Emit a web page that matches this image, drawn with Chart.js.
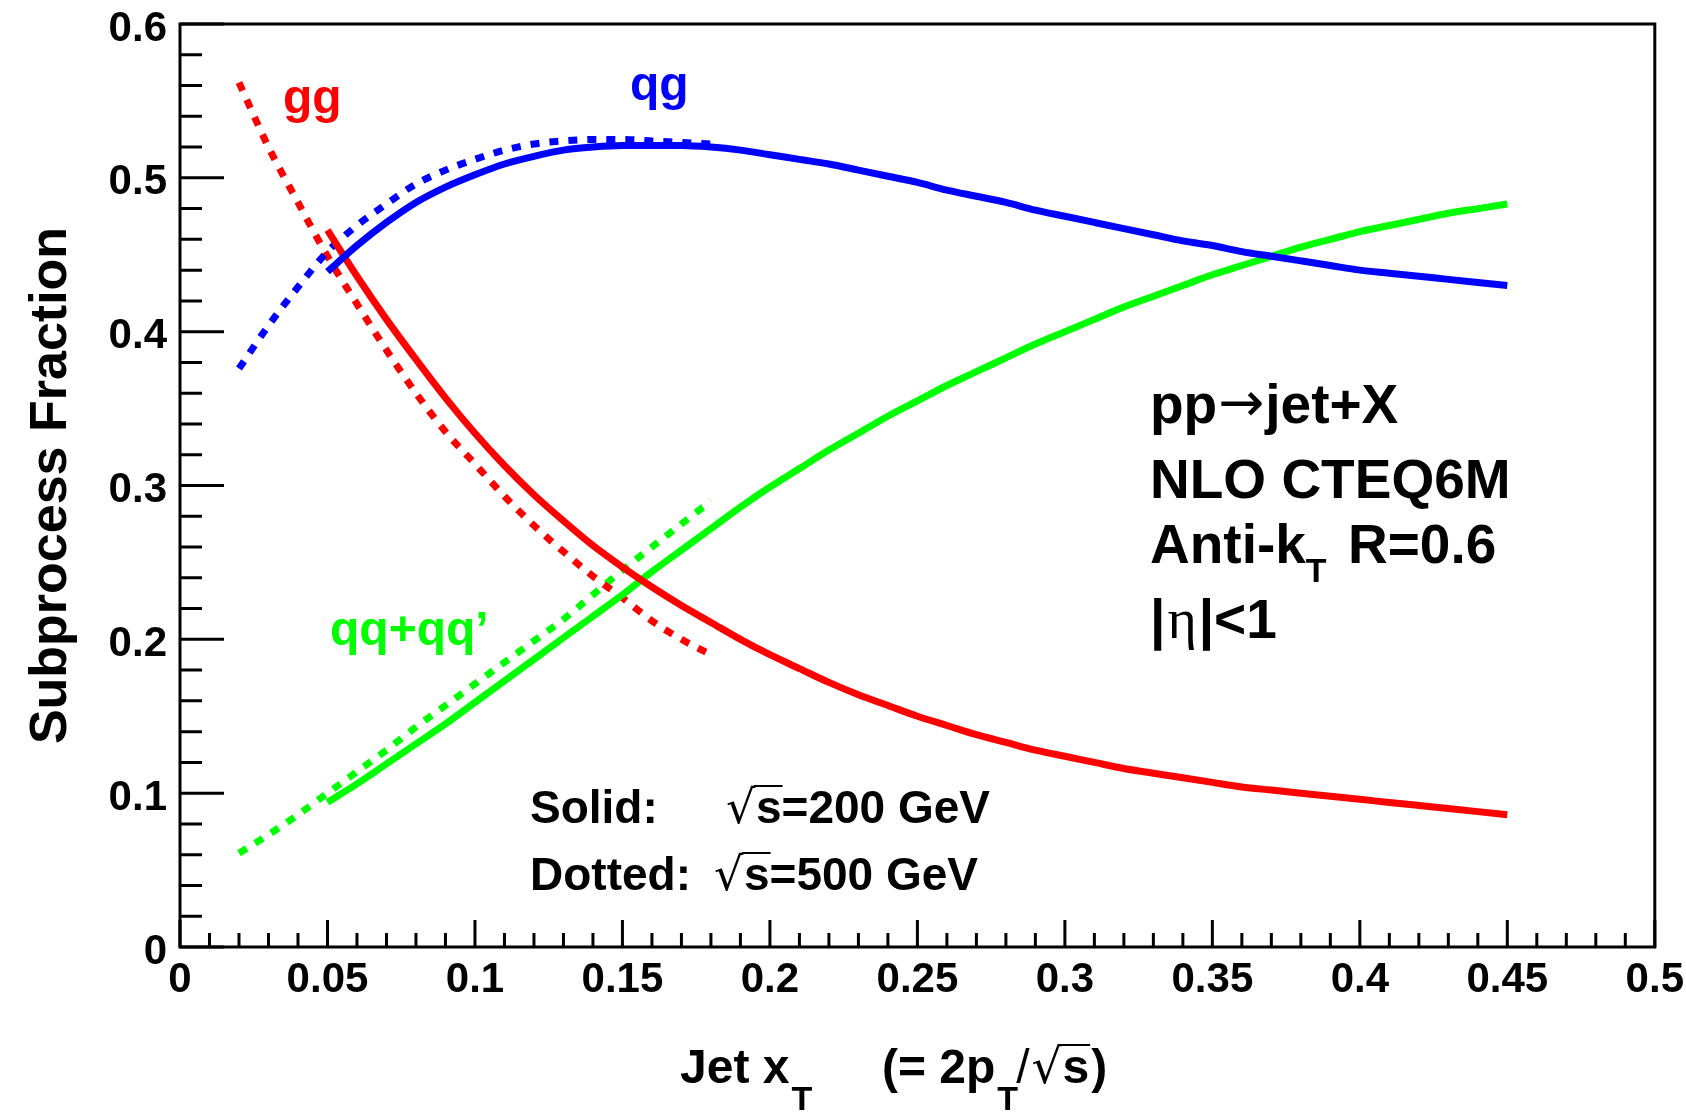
<!DOCTYPE html>
<html>
<head>
<meta charset="utf-8">
<script src="https://cdn.jsdelivr.net/npm/chart.js@4.4.0/dist/chart.umd.min.js"></script>
<style>
  body { margin: 0; background: #fff; }
  canvas { display: block; }
</style>
</head>
<body>
<canvas id="fracChart" width="1686" height="1112"></canvas>
<script>
// jet x_T values (solid = 200 GeV, dotted = 500 GeV)
const xSolid = [0.05, 0.06, 0.07, 0.08, 0.09, 0.10, 0.11, 0.12, 0.13, 0.14, 0.15, 0.16, 0.17, 0.18, 0.19, 0.20,
                0.21, 0.22, 0.23, 0.24, 0.25, 0.26, 0.27, 0.28, 0.29, 0.30, 0.31, 0.32, 0.33, 0.34, 0.35, 0.36,
                0.37, 0.38, 0.39, 0.40, 0.41, 0.42, 0.43, 0.44, 0.45];
const xDotted = [0.02, 0.03, 0.04, 0.05, 0.06, 0.07, 0.08, 0.09, 0.10, 0.11, 0.12, 0.13, 0.14, 0.15, 0.16, 0.17, 0.18];

// subprocess fractions
const ggSolid = [0.466, 0.436, 0.408, 0.382, 0.357, 0.334, 0.313, 0.294, 0.277, 0.261, 0.247, 0.234, 0.222, 0.211,
                 0.200, 0.190, 0.181, 0.172, 0.164, 0.157, 0.150, 0.144, 0.138, 0.133, 0.128, 0.124, 0.120, 0.116,
                 0.113, 0.110, 0.107, 0.104, 0.102, 0.100, 0.098, 0.096, 0.094, 0.092, 0.090, 0.088, 0.086];
const qgSolid = [0.439, 0.456, 0.471, 0.484, 0.494, 0.502, 0.509, 0.514, 0.518, 0.520, 0.521, 0.521, 0.521, 0.520,
                 0.518, 0.515, 0.512, 0.509, 0.505, 0.501, 0.497, 0.492, 0.488, 0.484, 0.479, 0.475, 0.471, 0.467,
                 0.463, 0.459, 0.456, 0.452, 0.449, 0.446, 0.443, 0.440, 0.438, 0.436, 0.434, 0.432, 0.430];
const qqSolid = [0.094, 0.106, 0.119, 0.132, 0.145, 0.159, 0.173, 0.187, 0.201, 0.215, 0.229, 0.244, 0.258, 0.272,
                 0.286, 0.299, 0.311, 0.323, 0.334, 0.345, 0.355, 0.365, 0.374, 0.383, 0.392, 0.400, 0.408, 0.416,
                 0.423, 0.430, 0.437, 0.443, 0.449, 0.455, 0.460, 0.465, 0.469, 0.473, 0.477, 0.480, 0.483];
const ggDotted = [0.562, 0.520, 0.484, 0.449, 0.418, 0.388, 0.360, 0.335, 0.314, 0.293, 0.274, 0.257, 0.241, 0.227, 0.212, 0.200, 0.190];
const qgDotted = [0.376, 0.404, 0.429, 0.452, 0.469, 0.483, 0.496, 0.505, 0.512, 0.518, 0.522, 0.524, 0.525, 0.525, 0.524, 0.523, 0.522];
const qqDotted = [0.061, 0.073, 0.086, 0.100, 0.114, 0.128, 0.143, 0.157, 0.171, 0.185, 0.199, 0.213, 0.229, 0.245, 0.260, 0.275, 0.290];

// axis ticks
const xTickValues = [0, 0.05, 0.1, 0.15, 0.2, 0.25, 0.3, 0.35, 0.4, 0.45, 0.5];
const xTickLabels = ['0', '0.05', '0.1', '0.15', '0.2', '0.25', '0.3', '0.35', '0.4', '0.45', '0.5'];
const yTickValues = [0, 0.1, 0.2, 0.3, 0.4, 0.5, 0.6];
const yTickLabels = ['0', '0.1', '0.2', '0.3', '0.4', '0.5', '0.6'];

const SANS = '"Liberation Sans", Arial, Helvetica, sans-serif';
const RED = '#ff0000', BLUE = '#0000ff', GREEN = '#00ff00';

function pts(xs, ys) {
    return xs.map(function(x, i) { return { x: x, y: ys[i] }; });
}

function serie(label, xs, ys, color, dotted) {
    return {
        label: label,
        data: pts(xs, ys),
        borderColor: color,
        borderWidth: 7,
        borderDash: dotted ? [9, 10] : [],
        borderCapStyle: 'butt',
        pointRadius: 0,
        showLine: true,
        fill: false,
        cubicInterpolationMode: 'monotone'
    };
}

// frame + ROOT style inward ticks
const framePlugin = {
    id: 'frame',
    afterDraw: function(chart) {
        const ctx = chart.ctx;
        const a = chart.chartArea;
        const xs = chart.scales.x, ys = chart.scales.y;
        ctx.save();
        ctx.strokeStyle = '#000';
        ctx.lineWidth = 3;
        ctx.strokeRect(a.left, a.top, a.right - a.left, a.bottom - a.top);
        ctx.beginPath();
        for (let i = 0; i <= 50; i++) {
            const px = xs.getPixelForValue(i / 100);
            const len = (i % 5 === 0) ? 27 : 14;
            ctx.moveTo(px, a.bottom);
            ctx.lineTo(px, a.bottom - len);
        }
        for (let j = 0; j <= 30; j++) {
            const py = ys.getPixelForValue(j / 50);
            const len = (j % 5 === 0) ? 44 : 22;
            ctx.moveTo(a.left, py);
            ctx.lineTo(a.left + len, py);
        }
        ctx.stroke();
        ctx.restore();
    }
};

function put(ctx, s, x, y, font, color) {
    ctx.font = font;
    ctx.fillStyle = color || '#000';
    ctx.fillText(s, x, y);
    return x + ctx.measureText(s).width;
}

// radical sign followed by an overlined "s"
function sqrtS(ctx, x, y, size) {
    ctx.font = size + 'px "DejaVu Sans"';
    ctx.fillStyle = '#000';
    ctx.fillText('\u221A', x, y);
    const m = ctx.measureText('\u221A');
    const top = y - m.actualBoundingBoxAscent;
    const x2 = x + m.actualBoundingBoxRight;
    const x3 = put(ctx, 's', x2, y, 'bold ' + size + 'px ' + SANS);
    ctx.beginPath();
    ctx.strokeStyle = '#000';
    ctx.lineWidth = 2;
    ctx.moveTo(x2 - 2, top + 1);
    ctx.lineTo(x3 + 1, top + 1);
    ctx.stroke();
    return x3;
}

const textPlugin = {
    id: 'texts',
    afterDraw: function(chart) {
        const ctx = chart.ctx;
        ctx.save();
        ctx.textAlign = 'left';
        ctx.textBaseline = 'alphabetic';

        // curve labels
        put(ctx, 'gg', 283, 113, 'bold 48px ' + SANS, RED);
        put(ctx, 'qg', 630, 100, 'bold 48px ' + SANS, BLUE);
        put(ctx, 'qq+qq\u2019', 330, 645, 'bold 48px ' + SANS, GREEN);

        // process description
        const big = 'bold 55px ' + SANS;
        let x = put(ctx, 'pp', 1150, 423, big);
        x = put(ctx, '\u2192', x + 1, 421, '55px "DejaVu Sans"');
        put(ctx, 'jet+X', x + 1, 423, big);
        put(ctx, 'NLO CTEQ6M', 1150, 498, big);
        x = put(ctx, 'Anti-k', 1150, 563, big);
        put(ctx, 'T', x, 582, 'bold 34px ' + SANS);
        put(ctx, 'R=0.6', 1348, 563, big);
        x = put(ctx, '|', 1150, 638, big);
        x = put(ctx, '\u03B7', x + 2, 638, '56px "Liberation Serif", serif');
        put(ctx, '|<1', x + 2, 638, big);

        // energies
        const mid = 'bold 46px ' + SANS;
        put(ctx, 'Solid:', 530, 823, mid);
        x = sqrtS(ctx, 726, 823, 46);
        put(ctx, '=200 GeV', x, 823, mid);
        put(ctx, 'Dotted:', 530, 890, mid);
        x = sqrtS(ctx, 714, 890, 46);
        put(ctx, '=500 GeV', x, 890, mid);

        // x axis title
        const tt = 'bold 48px ' + SANS;
        x = put(ctx, 'Jet x', 680, 1083, tt);
        put(ctx, 'T', x + 2, 1110, 'bold 34px ' + SANS);
        x = put(ctx, '(= 2p', 882, 1083, tt);
        x = put(ctx, 'T', x + 2, 1110, 'bold 34px ' + SANS);
        x = put(ctx, '/', x - 2, 1083, '48px ' + SANS);
        x = sqrtS(ctx, x + 2, 1083, 48);
        put(ctx, ')', x + 2, 1083, tt);
        ctx.restore();
    }
};

new Chart(document.getElementById('fracChart'), {
    type: 'scatter',
    data: {
        datasets: [
            serie('qg 200', xSolid, qgSolid, BLUE, false),
            serie('gg 200', xSolid, ggSolid, RED, false),
            serie('qq 200', xSolid, qqSolid, GREEN, false),
            serie('qg 500', xDotted, qgDotted, BLUE, true),
            serie('gg 500', xDotted, ggDotted, RED, true),
            serie('qq 500', xDotted, qqDotted, GREEN, true)
        ]
    },
    options: {
        responsive: false,
        animation: false,
        layout: { padding: { top: 24, right: 31, left: 0, bottom: 0 } },
        plugins: {
            legend: { display: false },
            tooltip: { enabled: false }
        },
        scales: {
            x: {
                type: 'linear',
                min: 0,
                max: 0.5,
                grid: { display: false, drawTicks: false },
                border: { display: false },
                afterBuildTicks: function(s) { s.ticks = xTickValues.map(function(v) { return { value: v }; }); },
                afterFit: function(s) { s.height = 165; },
                ticks: {
                    autoSkip: false,
                    maxRotation: 0,
                    padding: 2,
                    color: '#000',
                    font: { family: SANS, size: 42, weight: 'bold', lineHeight: 1.52 },
                    callback: function(v, i) { return xTickLabels[i]; }
                }
            },
            y: {
                type: 'linear',
                min: 0,
                max: 0.6,
                grid: { display: false, drawTicks: false },
                border: { display: false },
                afterBuildTicks: function(s) { s.ticks = yTickValues.map(function(v) { return { value: v }; }); },
                afterFit: function(s) { s.width = 180; },
                ticks: {
                    autoSkip: false,
                    padding: 13,
                    labelOffset: 5,
                    color: '#000',
                    font: { family: SANS, size: 42, weight: 'bold', lineHeight: 0.5 },
                    callback: function(v, i) { return yTickLabels[i]; }
                },
                title: {
                    display: true,
                    text: 'Subprocess Fraction',
                    color: '#000',
                    font: { family: SANS, size: 52, weight: 'bold' },
                    padding: { top: 20, bottom: 0 }
                }
            }
        }
    },
    plugins: [framePlugin, textPlugin]
});
</script>
</body>
</html>
